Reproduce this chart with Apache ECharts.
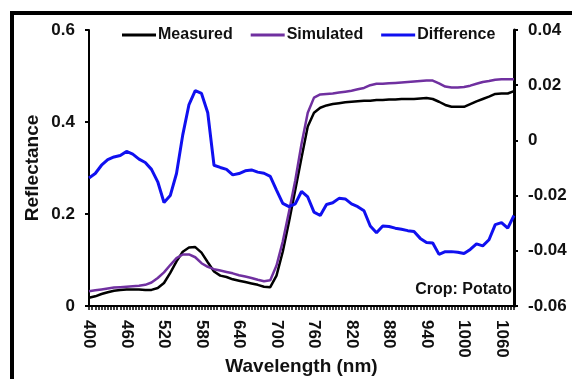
<!DOCTYPE html>
<html>
<head>
<meta charset="utf-8">
<script src="https://cdn.jsdelivr.net/npm/echarts@6/dist/echarts.min.js"></script>
<style>
    html, body { margin: 0; padding: 0; background: #fff; }
    #chart { width: 572px; height: 379px; }
</style>
</head>
<body>
<div id="chart"></div>
<script>
// wavelength (nm)
const wavelengths = [
    400, 410, 420, 430, 440, 450, 460, 470, 480, 490,
    500, 510, 520, 530, 540, 550, 560, 570, 580, 590,
    600, 610, 620, 630, 640, 650, 660, 670, 680, 690,
    700, 710, 720, 730, 740, 750, 760, 770, 780, 790,
    800, 810, 820, 830, 840, 850, 860, 870, 880, 890,
    900, 910, 920, 930, 940, 950, 960, 970, 980, 990,
    1000, 1010, 1020, 1030, 1040, 1050, 1060, 1070, 1080
];

const measured = [
    0.018, 0.021, 0.026, 0.030, 0.033, 0.035, 0.036, 0.036, 0.036, 0.035,
    0.035, 0.039, 0.050, 0.072, 0.097, 0.118, 0.127, 0.128, 0.116, 0.095,
    0.075, 0.066, 0.063, 0.058, 0.055, 0.052, 0.049, 0.046, 0.042, 0.041,
    0.066, 0.118, 0.183, 0.252, 0.322, 0.390, 0.420, 0.431, 0.436, 0.439,
    0.441, 0.443, 0.444, 0.445, 0.446, 0.446, 0.448, 0.448, 0.449, 0.449,
    0.450, 0.450, 0.450, 0.451, 0.452, 0.450, 0.444, 0.437, 0.433, 0.433,
    0.433, 0.439, 0.445, 0.450, 0.455, 0.461, 0.462, 0.462, 0.467
];

const simulated = [
    0.032, 0.034, 0.036, 0.038, 0.040, 0.041, 0.042, 0.043, 0.044, 0.046,
    0.051, 0.061, 0.073, 0.089, 0.104, 0.112, 0.112, 0.106, 0.093, 0.085,
    0.080, 0.077, 0.074, 0.071, 0.067, 0.064, 0.061, 0.057, 0.054, 0.056,
    0.088, 0.140, 0.205, 0.273, 0.352, 0.420, 0.453, 0.460, 0.461, 0.462,
    0.464, 0.466, 0.468, 0.471, 0.474, 0.480, 0.483, 0.483, 0.484, 0.485,
    0.486, 0.487, 0.488, 0.489, 0.490, 0.490, 0.484, 0.477, 0.475, 0.475,
    0.476, 0.479, 0.483, 0.487, 0.489, 0.492, 0.493, 0.493, 0.493
];

const difference = [
    -0.0136, -0.012, -0.009, -0.007, -0.006, -0.0055, -0.004, -0.005, -0.0068, -0.008,
    -0.0105, -0.015, -0.0225, -0.020, -0.012, 0.002, 0.013, 0.018, 0.017, 0.010,
    -0.009, -0.0098, -0.0105, -0.0125, -0.012, -0.011, -0.0107, -0.0115, -0.0119, -0.013,
    -0.018, -0.0228, -0.024, -0.023, -0.0185, -0.0205, -0.026, -0.0272, -0.0232, -0.0226,
    -0.021, -0.0212, -0.023, -0.024, -0.0255, -0.031, -0.0335, -0.031, -0.0312, -0.0318,
    -0.0322, -0.0327, -0.033, -0.0355, -0.037, -0.0372, -0.0413, -0.0403, -0.0403, -0.0405,
    -0.041, -0.0395, -0.0375, -0.0382, -0.036, -0.0305, -0.0298, -0.0318, -0.0272
];

const seriesNames = ['Measured', 'Simulated', 'Difference'];

const FONT = 'Liberation Sans';

const chart = echarts.init(document.getElementById('chart'));

const pairs = (vals) => wavelengths.map((w, i) => [w, vals[i]]);

const option = {
    backgroundColor: '#fff',
    animation: false,
    textStyle: { fontFamily: FONT },
    grid: {
        left: 89,
        right: 58,
        top: 30,
        bottom: 73,
        outerBoundsMode: 'none'
    },
    legend: {
        data: seriesNames,
        left: 117,
        top: 22,
        icon: 'rect',
        itemWidth: 34,
        itemHeight: 3,
        itemGap: 18,
        textStyle: {
            fontFamily: FONT,
            fontWeight: 'bold',
            fontSize: 16,
            color: '#111',
            padding: [0, 0, 0, -3]
        }
    },
    xAxis: {
        type: 'value',
        min: 400,
        max: 1080,
        interval: 60,
        name: 'Wavelength (nm)',
        nameLocation: 'middle',
        nameGap: 51,
        nameMoveOverlap: false,
        nameTextStyle: { fontWeight: 'bold', fontSize: 19, color: '#111' },
        axisLine: { lineStyle: { color: '#000', width: 2 } },
        axisTick: { length: 4, lineStyle: { color: '#000', width: 1.5 } },
        minorTick: { show: true, splitNumber: 12, length: 4, lineStyle: { color: '#000', width: 1.5 } },
        splitLine: { show: false },
        axisLabel: {
            rotate: -90,
            margin: 14,
            showMaxLabel: false,
            fontWeight: 'bold',
            fontSize: 17,
            color: '#111',
            formatter: (v) => String(v)
        }
    },
    yAxis: [
        {
            type: 'value',
            min: 0,
            max: 0.6,
            interval: 0.2,
            name: 'Reflectance',
            nameLocation: 'middle',
            nameGap: 47,
            nameMoveOverlap: false,
            nameTextStyle: { fontWeight: 'bold', fontSize: 19, color: '#111' },
            axisLine: { show: true, lineStyle: { color: '#000', width: 2 } },
            axisTick: { show: true, length: 4, lineStyle: { color: '#000', width: 2 } },
            splitLine: { show: false },
            axisLabel: {
                margin: 14,
                fontWeight: 'bold',
                fontSize: 17,
                color: '#111',
                formatter: (v) => String(Math.round(v * 10) / 10)
            }
        },
        {
            type: 'value',
            min: -0.06,
            max: 0.04,
            interval: 0.02,
            position: 'right',
            axisLine: { show: true, lineStyle: { color: '#000', width: 3 } },
            axisTick: { show: true, length: 4, lineStyle: { color: '#000', width: 2 } },
            splitLine: { show: false },
            axisLabel: {
                margin: 14,
                fontWeight: 'bold',
                fontSize: 17,
                color: '#111',
                formatter: (v) => String(Math.round(v * 100) / 100)
            }
        }
    ],
    graphic: [
        {
            // outer frame, runs off the right and bottom edges
            type: 'rect',
            shape: { x: 12, y: 13, width: 620, height: 420 },
            style: { fill: 'none', stroke: '#000', lineWidth: 4 },
            silent: true
        },
        {
            type: 'text',
            right: 60,
            top: 282,
            style: {
                text: 'Crop: Potato',
                fontFamily: FONT,
                fontWeight: 'bold',
                fontSize: 16,
                fill: '#111'
            }
        }
    ],
    series: [
        {
            name: 'Measured',
            type: 'line',
            yAxisIndex: 0,
            data: pairs(measured),
            showSymbol: false,
            lineStyle: { color: '#000', width: 2.5 },
            itemStyle: { color: '#000' }
        },
        {
            name: 'Simulated',
            type: 'line',
            yAxisIndex: 0,
            data: pairs(simulated),
            showSymbol: false,
            lineStyle: { color: '#7030A0', width: 2.5 },
            itemStyle: { color: '#7030A0' }
        },
        {
            name: 'Difference',
            type: 'line',
            yAxisIndex: 1,
            data: pairs(difference),
            showSymbol: false,
            lineStyle: { color: '#1010F0', width: 3 },
            itemStyle: { color: '#1010F0' }
        }
    ]
};

chart.setOption(option);
</script>
</body>
</html>
